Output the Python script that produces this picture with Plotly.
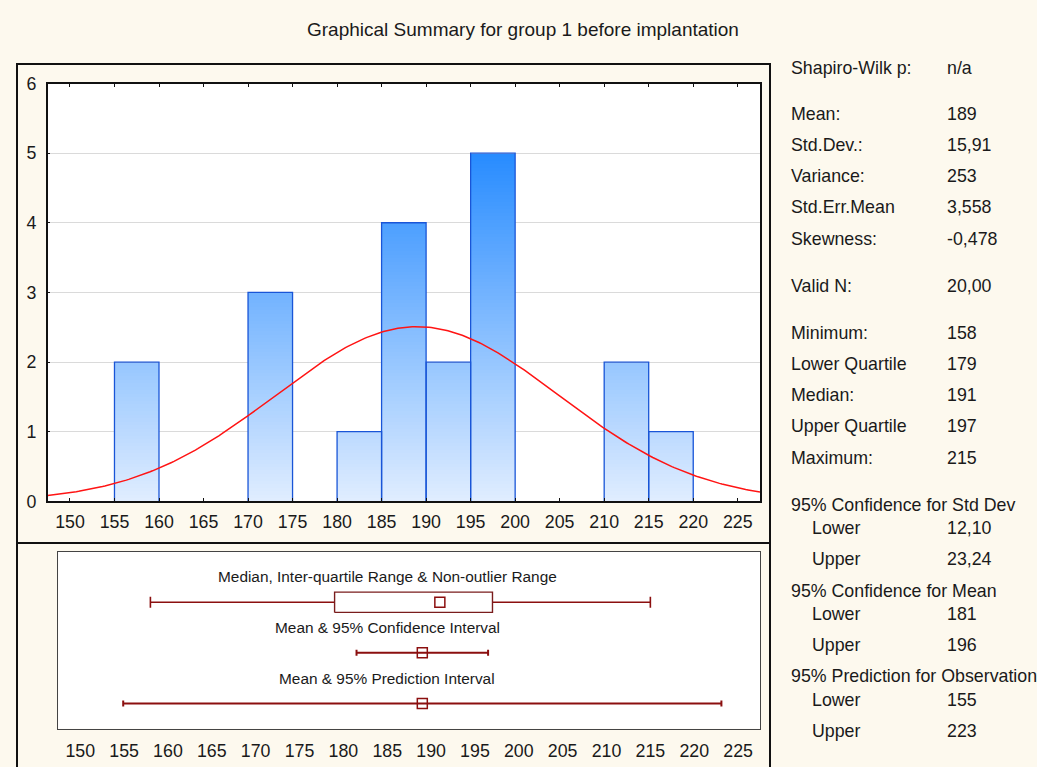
import numpy as np
import plotly.graph_objects as go

# ---------------- data ----------------
bin_left = [150, 155, 160, 165, 170, 175, 180, 185, 190, 195, 200, 205, 210, 215, 220]
counts = [0, 2, 0, 0, 3, 0, 1, 4, 2, 5, 0, 0, 2, 1, 0]
bin_width = 5

mean_val = 189.0
std_dev = 15.91
n_valid = 20
minimum = 158
lower_quartile = 179
median_val = 191
upper_quartile = 197
maximum = 215
ci_mean = [181.5, 196.5]
pi_obs = [154.9, 223.1]

x_ticks = list(range(150, 230, 5))
y_ticks = [0, 1, 2, 3, 4, 5, 6]

title_text = "Graphical Summary for group 1 before implantation"
row_labels = ["Median, Inter-quartile Range & Non-outlier Range",
              "Mean & 95% Confidence Interval",
              "Mean & 95% Prediction Interval"]

stat_labels = ["Shapiro-Wilk p:", "Mean:", "Std.Dev.:", "Variance:", "Std.Err.Mean",
               "Skewness:", "Valid N:", "Minimum:", "Lower Quartile", "Median:",
               "Upper Quartile", "Maximum:", "95% Confidence for Std Dev", "Lower", "Upper",
               "95% Confidence for Mean", "Lower", "Upper",
               "95% Prediction for Observation", "Lower", "Upper"]
stat_values = ["n/a", "189", "15,91", "253", "3,558", "-0,478", "20,00", "158", "179",
               "191", "197", "215", "", "12,10", "23,24", "", "181", "196", "", "155", "223"]

# ---------------- layout helpers ----------------
W, H = 1037, 767
def px(x):
    return x / W
def py(y):
    return 1 - y / H

FONT = "Liberation Sans, Arial, sans-serif"
TXT = "#1a1a1a"
BG = "#FDF9EE"
DARKRED = "#8B0F0F"
FS = 17.8

fig = go.Figure()

# ---------------- histogram with vertical gradient ----------------
counts_arr = np.array(counts, dtype=float)
centers = np.array(bin_left) + bin_width / 2
ymax_grad = 5.0
h = 0.05
n_levels = int(np.ceil(counts_arr.max() / h))
c0 = np.array([225, 238, 255])
c1 = np.array([40, 140, 255])
for k in range(n_levels):
    base = k * h
    hh = np.clip(counts_arr - base, 0, 2 * h)
    if hh.max() <= 0:
        continue
    t = min((base + h / 2) / ymax_grad, 1.0)
    col = c0 + (c1 - c0) * t
    fig.add_trace(go.Bar(
        x=centers, y=hh, base=[base] * len(centers), width=bin_width,
        marker=dict(color="rgb(%d,%d,%d)" % tuple(col.astype(int)), line=dict(width=0)),
        xaxis="x", yaxis="y", showlegend=False, hoverinfo="skip"))

# bar outlines
ox, oy = [], []
for l, c in zip(bin_left, counts):
    if c > 0:
        ox += [l, l, l + bin_width, l + bin_width, None]
        oy += [0, c, c, 0, None]
fig.add_trace(go.Scatter(x=ox, y=oy, mode="lines",
                         line=dict(color="rgb(25,85,215)", width=1.3),
                         xaxis="x", yaxis="y", showlegend=False, hoverinfo="skip"))

# fitted normal curve
xs = np.linspace(147.5, 227.5, 300)
ys = n_valid * bin_width / (std_dev * np.sqrt(2 * np.pi)) * np.exp(-0.5 * ((xs - mean_val) / std_dev) ** 2)
fig.add_trace(go.Scatter(x=xs, y=ys, mode="lines", line=dict(color="#FF1414", width=1.5),
                         xaxis="x", yaxis="y", showlegend=False, hoverinfo="skip"))

# ---------------- bottom panel: box & intervals ----------------
r1, r2, r3 = 2.5, 1.5, 0.5
box_half = 0.2
cap1 = 0.11
fig.add_trace(go.Scatter(
    x=[minimum, lower_quartile, None, upper_quartile, maximum, None, minimum, minimum, None, maximum, maximum],
    y=[r1, r1, None, r1, r1, None, r1 - cap1, r1 + cap1, None, r1 - cap1, r1 + cap1],
    mode="lines", line=dict(color=DARKRED, width=1.6),
    xaxis="x2", yaxis="y2", showlegend=False, hoverinfo="skip"))
fig.add_trace(go.Scatter(
    x=[lower_quartile, upper_quartile, upper_quartile, lower_quartile, lower_quartile],
    y=[r1 - box_half, r1 - box_half, r1 + box_half, r1 + box_half, r1 - box_half],
    mode="lines", line=dict(color="#7A1C1C", width=1.4),
    xaxis="x2", yaxis="y2", showlegend=False, hoverinfo="skip"))
fig.add_trace(go.Scatter(
    x=[median_val], y=[r1], mode="markers",
    marker=dict(symbol="square-open", size=10, color=DARKRED, line=dict(width=1.5)),
    xaxis="x2", yaxis="y2", showlegend=False, hoverinfo="skip"))
for (lo, hi), r in [(ci_mean, r2), (pi_obs, r3)]:
    fig.add_trace(go.Scatter(
        x=[mean_val], y=[r], mode="markers",
        marker=dict(symbol="square-open", size=10, color=DARKRED, line=dict(width=1.5)),
        error_x=dict(type="data", symmetric=False, array=[hi - mean_val],
                     arrayminus=[mean_val - lo], color=DARKRED, thickness=2, width=3),
        xaxis="x2", yaxis="y2", showlegend=False, hoverinfo="skip"))

# ---------------- annotations ----------------
ann = []
ann.append(dict(text=title_text, x=px(523), y=py(29), xref="paper", yref="paper",
                showarrow=False, xanchor="center", yanchor="middle",
                font=dict(family=FONT, size=19, color=TXT)))
for lab, yv in zip(row_labels, [3.0, 2.0, 1.0]):
    ann.append(dict(text=lab, x=px(387), y=yv, xref="paper", yref="y2",
                    showarrow=False, xanchor="center", yanchor="middle",
                    font=dict(family=FONT, size=15.4, color=TXT)))

stat_y = [68, 114, 145, 176, 207, 239, 286, 333, 364, 395, 426, 458,
          505, 528, 559, 591, 614, 645, 676, 700, 731]
for lab, val, yy in zip(stat_labels, stat_values, stat_y):
    indent = lab in ("Lower", "Upper")
    ann.append(dict(text=lab, x=px(810 if indent else 789), y=py(yy), xref="paper", yref="paper",
                    showarrow=False, xanchor="left", yanchor="middle",
                    font=dict(family=FONT, size=FS, color=TXT)))
    if val:
        ann.append(dict(text=val, x=px(945), y=py(yy), xref="paper", yref="paper",
                        showarrow=False, xanchor="left", yanchor="middle",
                        font=dict(family=FONT, size=FS, color=TXT)))

# ---------------- frames ----------------
shapes = [
    dict(type="rect", xref="paper", yref="paper", x0=px(17), x1=px(770), y0=py(543), y1=py(64),
         line=dict(color="#111", width=2), layer="below"),
    dict(type="rect", xref="paper", yref="paper", x0=px(17), x1=px(770), y0=py(772), y1=py(543),
         line=dict(color="#111", width=2), layer="below"),
]

tickfont = dict(family=FONT, size=FS, color=TXT)
fig.update_layout(
    width=W, height=H, autosize=False,
    margin=dict(l=0, r=0, t=0, b=0, pad=0, autoexpand=False),
    paper_bgcolor=BG, plot_bgcolor="white",
    barmode="overlay", bargap=0,
    showlegend=False,
    annotations=ann, shapes=shapes,
    xaxis=dict(domain=[px(47.7), px(760)], range=[147.5, 227.5], anchor="y", automargin=False,
               tickvals=x_ticks, ticks="inside", ticklen=4, tickcolor="#111",
               showline=True, linecolor="#111", linewidth=1.5, mirror="ticks",
               showgrid=False, zeroline=False, tickfont=tickfont, ticklabelstandoff=4),
    yaxis=dict(domain=[py(501.3), py(83.5)], range=[0, 6], anchor="x", automargin=False,
               tickvals=y_ticks, ticks="inside", ticklen=3, tickcolor="#111",
               showline=True, linecolor="#111", linewidth=1.5, mirror=True,
               showgrid=True, gridcolor="#DADADA", gridwidth=1, zeroline=False,
               tickfont=tickfont, ticklabelstandoff=6),
    xaxis2=dict(domain=[px(58.3), px(760)], range=[147.5, 227.5], anchor="y2", automargin=False,
                tickvals=x_ticks, ticks="", showline=True, linecolor="#444", linewidth=1,
                mirror=True, showgrid=False, zeroline=False, tickfont=tickfont,
                ticklabelstandoff=6),
    yaxis2=dict(domain=[py(728.7), py(551.7)], range=[0, 3.5], anchor="x2", automargin=False,
                showticklabels=False, ticks="", showline=True, linecolor="#444", linewidth=1,
                mirror=True, showgrid=False, zeroline=False),
)

post = ("document.body.style.margin='0';document.body.style.padding='0';"
        "document.documentElement.style.overflow='hidden';"
        "document.body.style.overflow='hidden';")
fig.write_html("out.html", config={"responsive": False, "displayModeBar": False}, post_script=post)
